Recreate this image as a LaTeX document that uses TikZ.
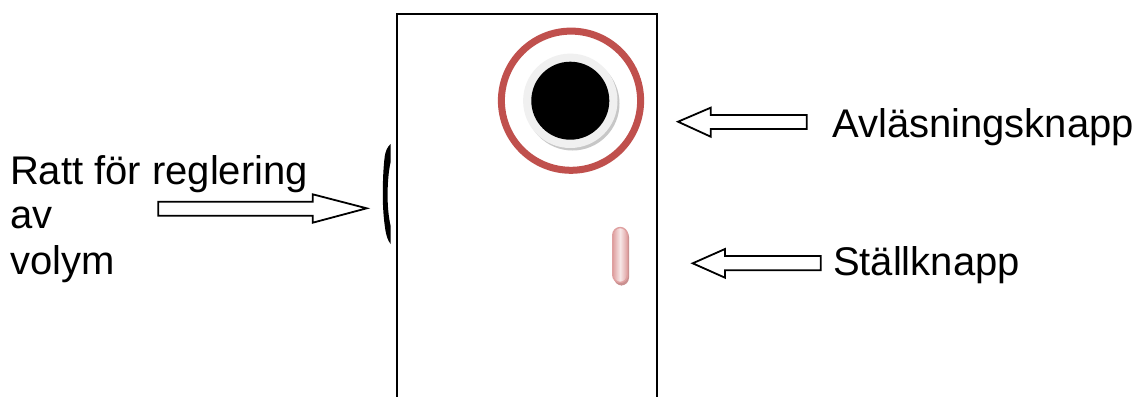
\documentclass[tikz,border=0pt]{standalone}
\usepackage{fontspec}
\setmainfont{Liberation Sans}
\definecolor{ringred}{HTML}{C0504D}
\definecolor{pillred}{HTML}{DFA0A0}
\definecolor{pilldark}{HTML}{C99090}
\tikzset{x=1pt,y=-1pt,
  outlinearrow/.style={draw=black,line width=1.8pt,fill=white,miter limit=10},
  labeltext/.style={anchor=base west,inner sep=0pt,outer sep=0pt,font=\fontsize{40}{45}\selectfont,text=black}}
\begin{document}
\begin{tikzpicture}
\useasboundingbox (0,0) rectangle (1137,396);
\fill[white] (0,0) rectangle (1137,396);
% housing
\draw[line width=2pt,black] (397.3,400) -- (397.3,14) -- (657,14) -- (657,400);
% reading button
\draw[ringred,line width=7pt] (571,100.7) circle (69.6);
\fill[black!22] (572.5,103.5) circle (47);
\fill[black!6] (570.3,100.8) circle (47.2);
\fill[black] (570.3,100.7) circle (39);
% setting button
\fill[pilldark,rounded corners=7.8pt] (614,229) rectangle (629,285.5);
\shade[left color=pillred,right color=pillred,middle color=pillred!25,draw=pillred,line width=1.4pt,rounded corners=7.5pt] (612.8,227.5) rectangle (627.5,282.5);
% volume wheel
\fill[black] (390.6,144) .. controls (387,147) and (385.5,152) .. (384.8,156) .. controls (383.2,168) and (382.8,182) .. (382.8,195) .. controls (382.8,207) and (383.6,218) .. (385.2,229) .. controls (386,235) and (388,241) .. (390.6,244) -- (390.6,226) .. controls (388.4,216) and (387.6,206) .. (387.6,195) .. controls (387.6,184) and (388.4,172) .. (390.6,162) -- cycle;
% arrows
\draw[outlinearrow] (806.7,115) -- (710.7,115) -- (710.7,107.7) -- (678,121.7) -- (710.7,136.7) -- (710.7,129) -- (806.7,129) -- cycle;
\draw[outlinearrow] (820.7,256) -- (725,256) -- (725,249) -- (692.7,263.3) -- (725,277.7) -- (725,270.3) -- (820.7,270.3) -- cycle;
\draw[outlinearrow] (158.3,201.7) -- (312.7,201.7) -- (312.7,194.3) -- (366.7,208.3) -- (312.7,222.7) -- (312.7,215.7) -- (158.3,215.7) -- cycle;
% labels
\node[labeltext] (read) at (832.3,137) {Avläsningsknapp};
\node[labeltext] (set) at (833,275) {Ställknapp};
\node[labeltext] (vol1) at (10,184.5) {Ratt för reglering};
\node[labeltext] (vol2) at (10,228) {av};
\node[labeltext] (vol3) at (10,274.3) {volym};
\end{tikzpicture}
\end{document}
